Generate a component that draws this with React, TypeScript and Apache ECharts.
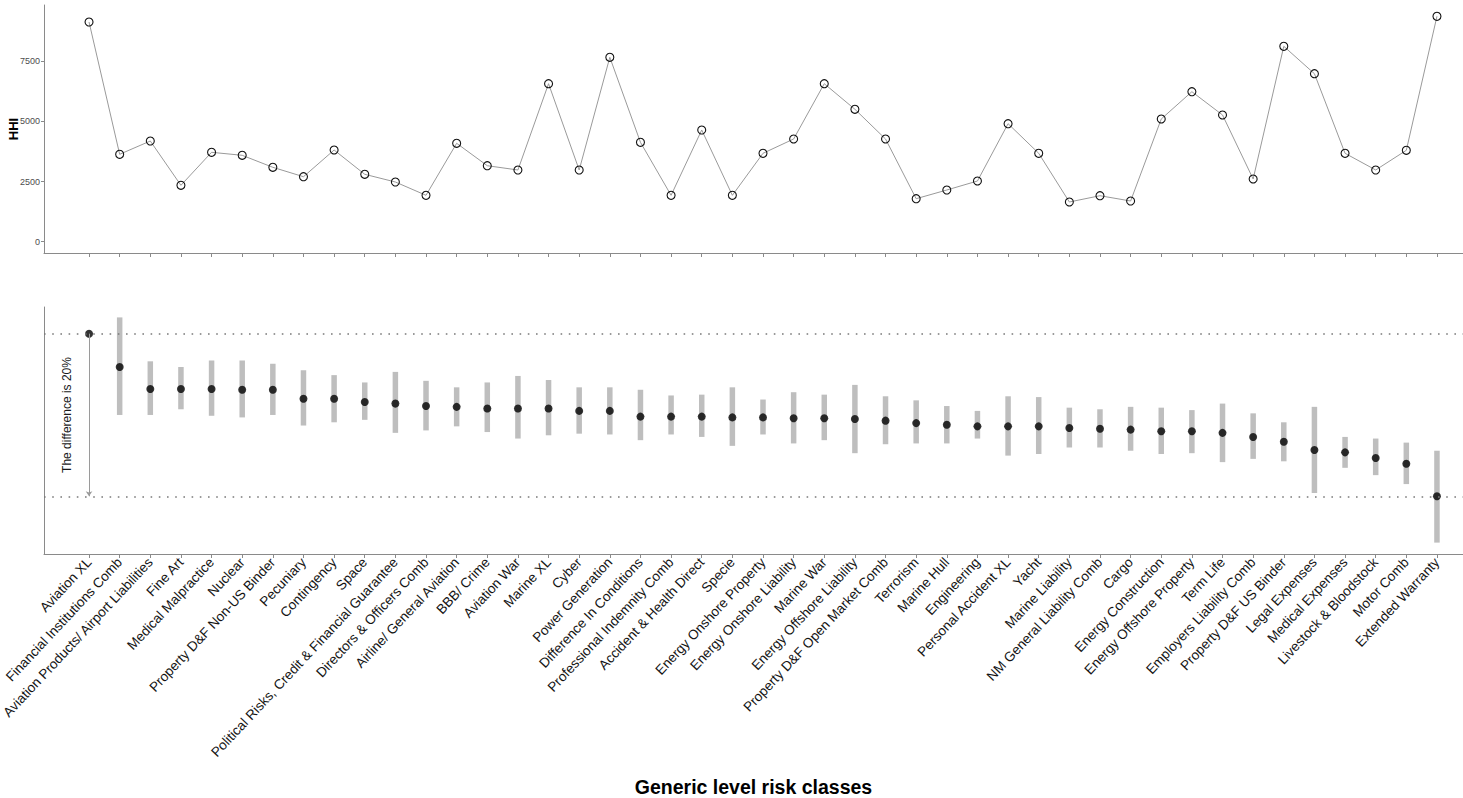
import { useEffect, useRef } from "react";
import * as echarts from "echarts";

// Generic level risk classes, ordered by the mean share (descending)
const riskClasses = [
  "Aviation XL",
  "Financial Institutions Comb",
  "Aviation Products/ Airport Liabilities",
  "Fine Art",
  "Medical Malpractice",
  "Nuclear",
  "Property D&F Non-US Binder",
  "Pecuniary",
  "Contingency",
  "Space",
  "Political Risks, Credit & Financial Guarantee",
  "Directors & Officers Comb",
  "Airline/ General Aviation",
  "BBB/ Crime",
  "Aviation War",
  "Marine XL",
  "Cyber",
  "Power Generation",
  "Difference In Conditions",
  "Professional Indemnity Comb",
  "Accident & Health Direct",
  "Specie",
  "Energy Onshore Property",
  "Energy Onshore Liability",
  "Marine War",
  "Energy Offshore Liability",
  "Property D&F Open Market Comb",
  "Terrorism",
  "Marine Hull",
  "Engineering",
  "Personal Accident XL",
  "Yacht",
  "Marine Liability",
  "NM General Liability Comb",
  "Cargo",
  "Energy Construction",
  "Energy Offshore Property",
  "Term Life",
  "Employers Liability Comb",
  "Property D&F US Binder",
  "Legal Expenses",
  "Medical Expenses",
  "Livestock & Bloodstock",
  "Motor Comb",
  "Extended Warranty",
];

// Herfindahl-Hirschman index per class
const hhi = [
  9124, 3630, 4182, 2342, 3713, 3588, 3090, 2699, 3808, 2799, 2479, 1927, 4087,
  3156, 2978, 6562, 2978, 7658, 4128, 1927, 4639, 1927, 3671, 4265, 6562, 5499,
  4265, 1786, 2147, 2521, 4901, 3671, 1649, 1910, 1690, 5096, 6230, 5262, 2604,
  8115, 6977, 3671, 2978, 3796, 9361,
];

// Mean share (%) and its range per class
const shareMean = [
  60.0, 55.9, 53.2, 53.2, 53.2, 53.1, 53.1, 52.0, 52.0, 51.6, 51.4, 51.1, 51.0,
  50.8, 50.8, 50.8, 50.5, 50.5, 49.8, 49.8, 49.8, 49.7, 49.7, 49.6, 49.6, 49.5,
  49.3, 49.0, 48.8, 48.6, 48.6, 48.6, 48.4, 48.3, 48.2, 48.0, 48.0, 47.8, 47.3,
  46.7, 45.7, 45.4, 44.7, 44.0, 40.0,
];
const shareLow = [
  60.0, 50.0, 50.0, 50.7, 49.9, 49.7, 50.0, 48.7, 49.1, 49.4, 47.8, 48.1, 48.6,
  47.9, 47.1, 47.5, 47.7, 47.6, 46.9, 47.6, 47.3, 46.2, 47.6, 46.5, 46.9, 45.3,
  46.4, 46.5, 46.5, 47.1, 45.0, 45.2, 46.0, 46.0, 45.6, 45.2, 45.3, 44.2, 44.6,
  44.3, 40.4, 43.5, 42.6, 41.5, 34.3,
];
const shareHigh = [
  60.0, 62.0, 56.6, 55.9, 56.7, 56.7, 56.3, 55.5, 54.9, 54.0, 55.3, 54.2, 53.4,
  54.0, 54.8, 54.3, 53.4, 53.4, 53.1, 52.4, 52.5, 53.4, 51.9, 52.8, 52.5, 53.7,
  52.3, 51.8, 51.1, 50.5, 52.3, 52.2, 50.9, 50.7, 51.0, 50.9, 50.6, 51.4, 50.2,
  49.1, 51.0, 47.3, 47.1, 46.6, 45.6,
];

const hhiTicks = [0, 2500, 5000, 7500];

const FONT = "Liberation Sans, Arial, sans-serif";
const AXIS_GREY = "#8a8a8a";

export default function App() {
  const ref = useRef<HTMLDivElement>(null);

  useEffect(() => {
    if (!ref.current) return;
    const chart = echarts.init(ref.current, undefined, { renderer: "svg" });

    const idx = riskClasses.map((_, i) => i);
    const xMin = -1.47;
    const xMax = 44.85;

    const maxMean = Math.max(...shareMean);
    const minMean = Math.min(...shareMean);
    const diff = Math.round(maxMean - minMean);
    const maxIdx = shareMean.indexOf(maxMean);

    const xAxisBase = {
      type: "value" as const,
      min: xMin,
      max: xMax,
      splitLine: { show: false },
      axisLine: { show: true, onZero: false, lineStyle: { color: AXIS_GREY, width: 1 } },
      axisTick: {
        show: true,
        customValues: idx,
        length: 4,
        lineStyle: { color: AXIS_GREY, width: 1 },
      },
    };

    chart.setOption({
      animation: false,
      textStyle: { fontFamily: FONT },
      grid: [
        { left: 44, top: 5, width: 1419, height: 248, outerBoundsMode: "none", containLabel: false },
        { left: 44, top: 307, width: 1419, height: 247, outerBoundsMode: "none", containLabel: false },
      ],
      xAxis: [
        {
          ...xAxisBase,
          gridIndex: 0,
          axisLabel: { show: false },
        },
        {
          ...xAxisBase,
          gridIndex: 1,
          axisLabel: {
            show: true,
            customValues: idx,
            rotate: 47,
            margin: 6,
            fontSize: 13.6,
            color: "#141414",
            fontFamily: FONT,
            formatter: (v: number) => riskClasses[Math.round(v)] ?? "",
          },
          name: "Generic level risk classes",
          nameLocation: "middle",
          nameGap: 223,
          nameMoveOverlap: false,
          nameTextStyle: {
            fontSize: 19.5,
            fontWeight: "bold",
            color: "#000",
            fontFamily: FONT,
          },
        },
      ],
      yAxis: [
        {
          type: "value",
          gridIndex: 0,
          min: -469,
          max: 9830,
          splitLine: { show: false },
          axisLine: { show: true, onZero: false, lineStyle: { color: AXIS_GREY, width: 1 } },
          axisTick: {
            show: true,
            customValues: hhiTicks,
            length: 3,
            lineStyle: { color: AXIS_GREY },
          },
          axisLabel: {
            customValues: hhiTicks,
            fontSize: 9,
            color: "#4d4d4d",
            margin: 4,
            formatter: (v: number) => String(v),
          },
          name: "HHI",
          nameLocation: "middle",
          nameGap: 24,
          nameMoveOverlap: false,
          nameTextStyle: { fontSize: 13, fontWeight: "bold", color: "#000" },
        },
        {
          type: "value",
          gridIndex: 1,
          min: 32.9,
          max: 63.28,
          splitLine: { show: false },
          axisLine: { show: true, onZero: false, lineStyle: { color: AXIS_GREY, width: 1 } },
          axisTick: { show: false },
          axisLabel: { show: false },
        },
      ],
      series: [
        {
          type: "line",
          xAxisIndex: 0,
          yAxisIndex: 0,
          data: hhi.map((v, i) => [i, v]),
          symbol: "circle",
          symbolSize: 8,
          lineStyle: { color: "#9a9a9a", width: 1 },
          itemStyle: { color: "rgba(0,0,0,0)", borderColor: "#111", borderWidth: 1.1 },
          z: 2,
        },
        {
          type: "custom",
          xAxisIndex: 1,
          yAxisIndex: 1,
          data: idx.map((i) => [i, shareLow[i], shareHigh[i]]),
          encode: { x: 0, y: [1, 2] },
          renderItem: (_params: any, api: any) => {
            const i = api.value(0);
            const lo = api.coord([i, api.value(1)]);
            const hi = api.coord([i, api.value(2)]);
            const w = 5.5;
            return {
              type: "rect",
              shape: { x: lo[0] - w / 2, y: hi[1], width: w, height: lo[1] - hi[1] },
              style: { fill: "#bebebe" },
            };
          },
          z: 1,
        },
        {
          type: "scatter",
          xAxisIndex: 1,
          yAxisIndex: 1,
          data: shareMean.map((v, i) => [i, v]),
          symbol: "circle",
          symbolSize: 8,
          itemStyle: { color: "#000" },
          z: 3,
          markLine: {
            silent: true,
            symbol: "none",
            label: { show: false },
            lineStyle: { color: "#7a7a7a", type: [1.6, 6.6], width: 1.6 },
            data: [{ yAxis: maxMean }, { yAxis: maxMean - diff }],
          },
        },
        {
          type: "line",
          xAxisIndex: 1,
          yAxisIndex: 1,
          data: [],
          markLine: {
            silent: true,
            symbol: ["none", "arrow"],
            symbolSize: [5, 5],
            label: { show: false },
            lineStyle: { color: "#9a9a9a", type: "solid", width: 1 },
            data: [
              [
                { coord: [maxIdx, maxMean] },
                { coord: [maxIdx, maxMean - diff] },
              ],
            ],
          },
        },
      ],
    });

    const pos = chart.convertToPixel({ gridIndex: 1 }, [maxIdx - 0.72, maxMean - diff / 2]) as number[];
    chart.setOption({
      graphic: [
        {
          type: "text",
          x: pos[0],
          y: pos[1],
          rotation: Math.PI / 2,
          style: {
            text: `The difference is ${diff}%`,
            fontSize: 12,
            fontFamily: FONT,
            fill: "#1a1a1a",
            align: "center",
            verticalAlign: "middle",
          },
        },
      ],
    });

    return () => chart.dispose();
  }, []);

  return (
    <div
      ref={ref}
      style={{ position: "fixed", left: 0, top: 0, width: 1463, height: 798, background: "#fff" }}
    />
  );
}
